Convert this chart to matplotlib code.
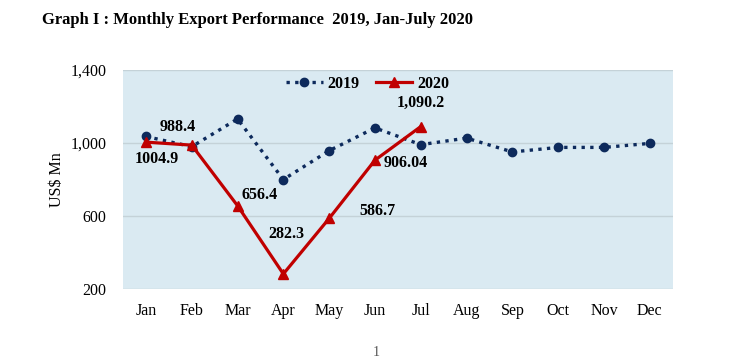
import matplotlib.pyplot as plt

plt.rcParams['font.family'] = ['Liberation Serif', 'DejaVu Serif']

# data
months = ['Jan', 'Feb', 'Mar', 'Apr', 'May', 'Jun', 'Jul', 'Aug', 'Sep', 'Oct', 'Nov', 'Dec']
exp_2019 = [1036, 980, 1132, 800, 958, 1083, 991, 1027, 951, 976, 976, 998]
exp_2020 = [1004.9, 988.4, 656.4, 282.3, 586.7, 906.04, 1090.2]
labels_2020 = ['1004.9', '988.4', '656.4', '282.3', '586.7', '906.04', '1,090.2']
yticks = [200, 600, 1000, 1400]

fig = plt.figure(figsize=(7.5, 3.63), dpi=100)
ax = fig.add_axes([0.164, 0.204, 0.733, 0.603])
ax.set_facecolor('#DAEAF2')

x = list(range(len(months)))
ax.plot(x, exp_2019, linestyle=(0, (1, 1.6)), color='#0D2A5C', linewidth=2.4,
        marker='o', markersize=6, label='2019', zorder=3)
ax.plot(x[:len(exp_2020)], exp_2020, color='#C00000', linewidth=2.3,
        marker='^', markersize=6.5, label='2020', zorder=4)

# data labels for 2020 (offsets in points)
offsets = [(8, -12), (-10, 13), (16, 8), (2, 29), (35, 5), (22, -2), (0, 17)]
for i, (v, t) in enumerate(zip(exp_2020, labels_2020)):
    ax.annotate(t, (i, v), xytext=offsets[i], textcoords='offset points',
                ha='center', va='center', fontsize=11.5, fontweight='bold', zorder=5)

ax.set_xlim(-0.5, len(months) - 0.5)
ax.set_ylim(200, 1400)
ax.set_yticks(yticks)
ax.set_yticklabels([f'{v:,}' for v in yticks], fontsize=11.5)
ax.set_xticks(x)
ax.set_xticklabels(months, fontsize=11.5)
ax.tick_params(length=0, pad=10)
ax.tick_params(axis='y', pad=12)
ax.grid(axis='y', color='#C4D2D8', linewidth=1)
ax.set_axisbelow(True)
for s in ax.spines.values():
    s.set_visible(False)
ax.set_ylabel('US$ Mn', fontsize=11.5, labelpad=4)

leg = ax.legend(loc='upper center', bbox_to_anchor=(0.445, 1.04), ncol=2, frameon=False,
                prop={'weight': 'bold', 'size': 11.5}, handlelength=2.3,
                columnspacing=1.0, handletextpad=0.3)

fig.text(0.056, 0.945, 'Graph I : Monthly Export Performance  2019, Jan-July 2020',
         fontsize=12, fontweight='bold', ha='left', va='center')
fig.text(0.502, 0.03, '1', fontsize=10, color='#555555', ha='center', va='center')

fig.savefig('out.png', dpi=100)
